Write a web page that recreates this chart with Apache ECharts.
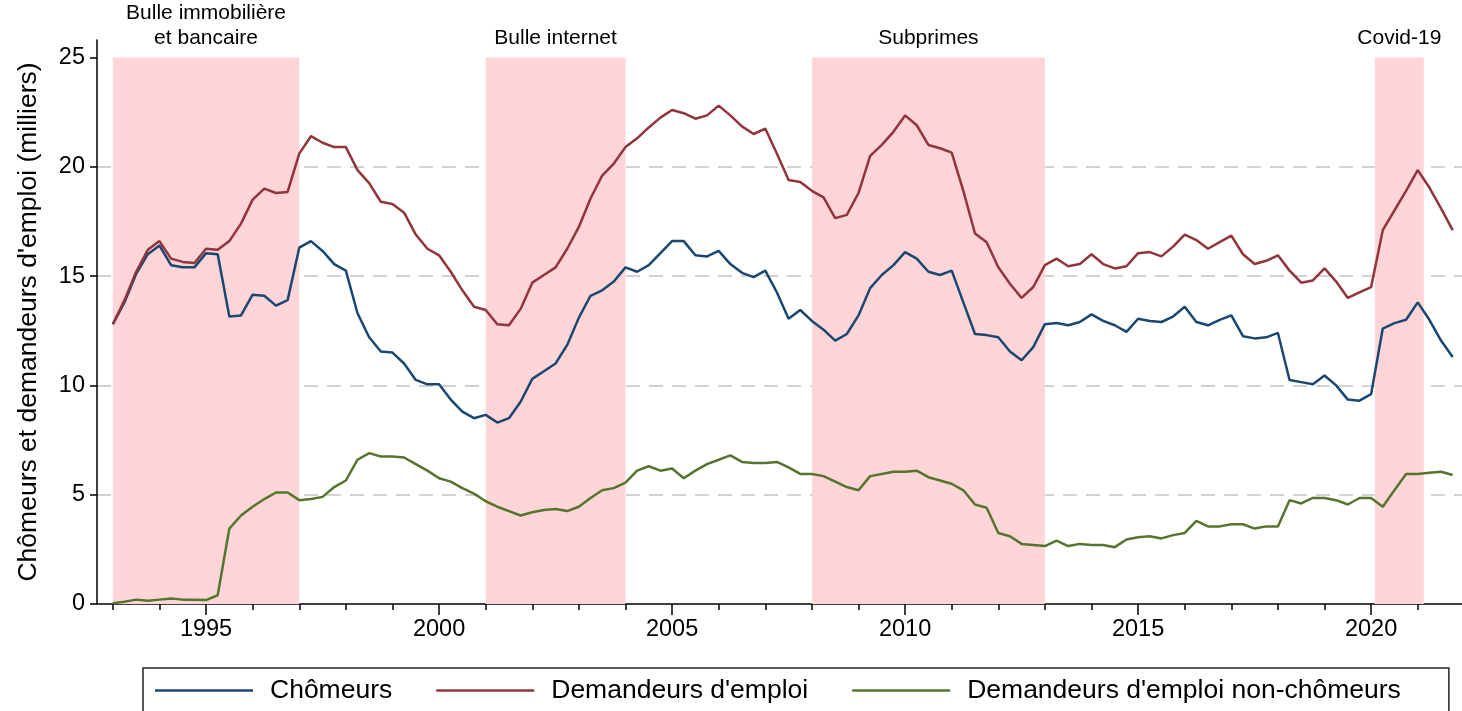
<!DOCTYPE html>
<html>
<head>
<meta charset="utf-8">
<script src="https://cdn.jsdelivr.net/npm/echarts@6/dist/echarts.min.js"></script>
<style>
  html, body { margin: 0; padding: 0; background: #fff; }
  #main { width: 1462px; height: 711px; }
</style>
</head>
<body>
<div id="main"></div>
<script>
// données trimestrielles, 1993T1 -> 2021T4
const startYear = 1993;
const demandeurs = [
  12.8, 13.9, 15.2, 16.2,   16.6, 15.8, 15.65, 15.6,  16.25, 16.2, 16.6, 17.4,
  18.5, 19.0, 18.8, 18.85,  20.6, 21.4, 21.1, 20.9,   20.9, 19.85, 19.25, 18.4,
  18.3, 17.9, 16.9, 16.25,  15.95, 15.2, 14.35, 13.6, 13.45, 12.8, 12.75, 13.5,
  14.7, 15.05, 15.4, 16.25, 17.25, 18.55, 19.6, 20.15, 20.9, 21.3, 21.8, 22.25,
  22.6, 22.45, 22.2, 22.35, 22.8, 22.35, 21.85, 21.5, 21.75, 20.6, 19.4, 19.3,
  18.9, 18.6, 17.65, 17.8,  18.8, 20.5, 21.0, 21.6,   22.35, 21.9, 21.0, 20.85,
  20.65, 18.9, 16.95, 16.55, 15.4, 14.65, 14.0, 14.5, 15.5, 15.8, 15.45, 15.55,
  16.0, 15.55, 15.35, 15.45, 16.05, 16.1, 15.9, 16.35, 16.9, 16.65, 16.25, 16.55,
  16.85, 16.0, 15.55, 15.7, 15.95, 15.25, 14.7, 14.8,  15.35, 14.75, 14.0, 14.25,
  14.5, 17.1, 18.0, 18.9,   19.85, 19.05, 18.1, 17.1
];
const chomeurs = [
  12.8, 13.8, 15.1, 16.0,   16.4, 15.5, 15.4, 15.4,   16.05, 16.0, 13.15, 13.2,
  14.15, 14.1, 13.65, 13.9, 16.3, 16.6, 16.15, 15.55, 15.25, 13.3, 12.2, 11.55,
  11.5, 11.0, 10.25, 10.05, 10.05, 9.35, 8.8, 8.5,    8.65, 8.3, 8.5, 9.25,
  10.3, 10.65, 11.0, 11.85, 13.1, 14.1, 14.35, 14.75, 15.4, 15.2, 15.5, 16.05,
  16.6, 16.6, 15.95, 15.9,  16.15, 15.55, 15.15, 14.95, 15.25, 14.25, 13.05, 13.45,
  12.95, 12.55, 12.05, 12.35, 13.2, 14.45, 15.05, 15.5, 16.1, 15.8, 15.2, 15.05,
  15.25, 13.8, 12.35, 12.3, 12.2, 11.55, 11.15, 11.75, 12.8, 12.85, 12.75, 12.9,
  13.25, 12.95, 12.75, 12.45, 13.05, 12.95, 12.9, 13.15, 13.6, 12.9, 12.75, 13.0,
  13.2, 12.25, 12.15, 12.2, 12.4, 10.25, 10.15, 10.05, 10.45, 10.0, 9.35, 9.3,
  9.6, 12.6, 12.85, 13.0,   13.8, 13.0, 12.05, 11.3
];
const nonChomeurs = [
  0.03, 0.1, 0.2, 0.15,     0.2, 0.25, 0.2, 0.2,      0.18, 0.4, 3.45, 4.05,
  4.45, 4.8, 5.1, 5.1,      4.75, 4.8, 4.9, 5.35,     5.65, 6.6, 6.9, 6.75,
  6.75, 6.7, 6.4, 6.1,      5.75, 5.6, 5.3, 5.05,     4.7, 4.45, 4.25, 4.05,
  4.2, 4.3, 4.35, 4.25,     4.45, 4.85, 5.2, 5.3,     5.55, 6.1, 6.3, 6.1,
  6.2, 5.75, 6.1, 6.4,      6.6, 6.8, 6.5, 6.45,      6.45, 6.5, 6.25, 5.95,
  5.95, 5.85, 5.6, 5.35,    5.2, 5.85, 5.95, 6.05,    6.05, 6.1, 5.8, 5.65,
  5.5, 5.2, 4.55, 4.4,      3.25, 3.1, 2.75, 2.7,     2.65, 2.9, 2.65, 2.75,
  2.7, 2.7, 2.6, 2.95,      3.05, 3.1, 3.0, 3.15,     3.25, 3.8, 3.55, 3.55,
  3.65, 3.65, 3.45, 3.55,   3.55, 4.75, 4.6, 4.85,    4.85, 4.75, 4.55, 4.85,
  4.85, 4.45, 5.2, 5.95,    5.95, 6.0, 6.05, 5.9
];
// périodes de crise (début, fin, libellé)
const crises = [
  [1993.0, 1997.0, 'Bulle immobilière\net bancaire'],
  [2001.0, 2004.0, 'Bulle internet'],
  [2008.0, 2013.0, 'Subprimes'],
  [2020.08, 2021.13, 'Covid-19']
];
const yearLabels = [1995, 2000, 2005, 2010, 2015, 2020];
const yLabels = [0, 5, 10, 15, 20, 25];

// axe des dates (un point par trimestre)
const dates = chomeurs.map((v, i) => startYear + i / 4);
const pair = arr => arr.map((v, i) => [dates[i], v]);
const allYears = [];
for (let y = 1993; y <= 2021; y++) allYears.push(y);

const font = 'Arial, "Liberation Sans", sans-serif';
let myChart = echarts.init(document.getElementById('main'));
myChart.setOption({
  animation: false,
  backgroundColor: '#fff',
  textStyle: { fontFamily: font },
  grid: { left: 97, right: 0, top: 40, bottom: 107 },
  legend: {
    data: ['Chômeurs', "Demandeurs d'emploi", "Demandeurs d'emploi non-chômeurs"],
    left: 143,
    top: 668,
    icon: 'rect',
    itemWidth: 98,
    itemHeight: 2.5,
    itemGap: 44,
    padding: [9, 48, 30, 12],
    borderColor: '#222',
    borderWidth: 1.5,
    textStyle: { fontSize: 26.5, color: '#000', fontFamily: font, padding: [0, 0, 0, 12] }
  },
  xAxis: [{
    type: 'value',
    min: 1992.66,
    max: 2021.95,
    axisLine: { onZero: false, lineStyle: { color: '#000', width: 1.5 } },
    axisTick: { customValues: yearLabels, length: 11, lineStyle: { color: '#000', width: 1.5 } },
    axisLabel: { customValues: yearLabels, formatter: v => String(v), fontSize: 23.5, color: '#000', margin: 14 },
    splitLine: { show: false }
  }, {
    // petits traits annuels
    type: 'value',
    position: 'bottom',
    min: 1992.66,
    max: 2021.95,
    axisLine: { show: false },
    axisTick: { customValues: allYears, length: 6, lineStyle: { color: '#000', width: 1.5 } },
    axisLabel: { show: false },
    splitLine: { show: false }
  }],
  yAxis: {
    type: 'value',
    min: 0,
    max: 25.8,
    interval: 5,
    name: "Chômeurs et demandeurs d'emploi (milliers)",
    nameLocation: 'middle',
    nameGap: 55,
    nameTextStyle: { fontSize: 26.5, color: '#000', fontFamily: font },
    axisLine: { show: true, lineStyle: { color: '#000', width: 1.5 } },
    axisTick: { show: true, customValues: yLabels, length: 7, lineStyle: { color: '#000', width: 1.5 } },
    axisLabel: { customValues: yLabels, fontSize: 23.5, color: '#000', margin: 12 },
    splitLine: {
      show: true,
      showMinLine: false,
      showMaxLine: false,
      lineStyle: { color: '#c4c4c4', width: 1.5, type: [14, 9] }
    }
  },
  series: [{
    name: 'crises',
    type: 'line',
    data: [],
    silent: true,
    markArea: {
      silent: true,
      itemStyle: { color: '#ffd5d7' },
      label: {
        show: true,
        position: 'top',
        distance: 7,
        color: '#000',
        fontSize: 21,
        lineHeight: 25,
        fontFamily: font,
        align: 'center'
      },
      data: crises.map(c => [{ name: c[2], xAxis: c[0], yAxis: 0 }, { xAxis: c[1], yAxis: 25 }])
    }
  }, {
    name: 'Chômeurs',
    type: 'line',
    data: pair(chomeurs),
    showSymbol: false,
    color: '#1a476f',
    lineStyle: { width: 2.5 }
  }, {
    name: "Demandeurs d'emploi",
    type: 'line',
    data: pair(demandeurs),
    showSymbol: false,
    color: '#90353b',
    lineStyle: { width: 2.5 }
  }, {
    name: "Demandeurs d'emploi non-chômeurs",
    type: 'line',
    data: pair(nonChomeurs),
    showSymbol: false,
    color: '#55752f',
    lineStyle: { width: 2.5 }
  }]
});
</script>
</body>
</html>
